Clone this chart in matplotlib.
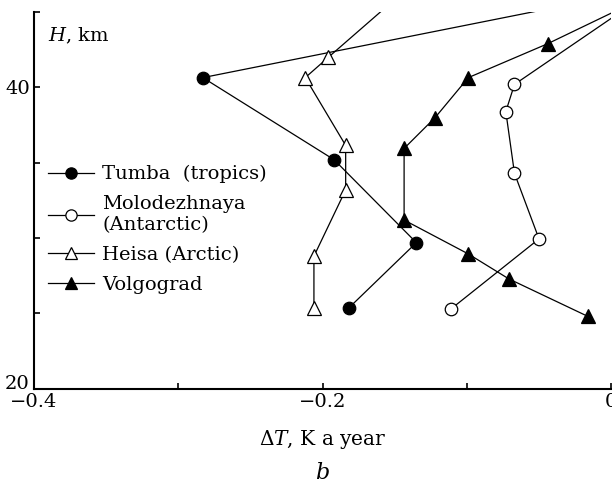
import matplotlib
matplotlib.use("Agg")
import matplotlib.pyplot as plt
from matplotlib.ticker import MultipleLocator

plt.rcParams["font.family"] = "DejaVu Serif"
plt.rcParams["mathtext.fontset"] = "dejavuserif"

# temperature trend (K per year) vs height (km); last point of each lies above the frame
tumba_dt = [-0.182, -0.135, -0.192, -0.283, 0.05]
tumba_h = [25.35, 29.7, 35.2, 40.65, 47.0]

molod_dt = [-0.111, -0.050, -0.067, -0.073, -0.067, 0.037]
molod_h = [25.3, 29.95, 34.3, 38.4, 40.2, 47.0]

heisa_dt = [-0.206, -0.206, -0.184, -0.184, -0.212, -0.196, -0.136]
heisa_h = [25.35, 28.8, 33.2, 36.15, 40.65, 42.0, 47.0]

volgo_dt = [-0.016, -0.071, -0.099, -0.1435, -0.1435, -0.122, -0.099, -0.044, 0.045]
volgo_h = [24.8, 27.3, 28.95, 31.2, 35.95, 38.0, 40.65, 42.9, 47.0]

fig = plt.figure(figsize=(6.12, 4.83), dpi=100)
ax = fig.add_axes([0.0556, 0.195, 0.943, 0.78])

kw = dict(color="black", lw=0.9, markeredgewidth=0.9)
ax.plot(tumba_dt, tumba_h, marker="o", markersize=9, markerfacecolor="black",
        label="Tumba  (tropics)", **kw)
ax.plot(molod_dt, molod_h, marker="o", markersize=9, markerfacecolor="white",
        label="Molodezhnaya\n(Antarctic)", **kw)
ax.plot(heisa_dt, heisa_h, marker="^", markersize=10, markerfacecolor="white",
        label="Heisa (Arctic)", **kw)
ax.plot(volgo_dt, volgo_h, marker="^", markersize=10, markerfacecolor="black",
        label="Volgograd", **kw)

ax.set_xlim(-0.4, 0)
ax.set_ylim(20, 45)
ax.set_xticks([-0.4, -0.2, 0])
ax.set_xticklabels(["\u22120.4", "\u22120.2", "0"])
ax.xaxis.set_minor_locator(MultipleLocator(0.1))
ax.set_yticks([20, 40])
ax.yaxis.set_minor_locator(MultipleLocator(5))
ax.tick_params(which="both", direction="in", length=4, width=1.2,
               labelsize=14, pad=3)
ax.get_yticklabels()[0].set_va("baseline")

for side in ("top", "right"):
    ax.spines[side].set_visible(False)
for side in ("left", "bottom"):
    ax.spines[side].set_linewidth(1.5)

ax.text(0.024, 0.965, "$H$, km", transform=ax.transAxes, fontsize=14,
        ha="left", va="top")
ax.set_xlabel("$\\Delta T$, K a year", fontsize=14.5, labelpad=12)
fig.text(0.527, 0.008, "$b$", fontsize=16, ha="center", va="baseline")

ax.legend(loc="upper left", bbox_to_anchor=(0.0, 0.63), frameon=False,
          fontsize=14, handlelength=2.4, handletextpad=0.4,
          labelspacing=0.62, borderaxespad=0.3, markerscale=0.9)

fig.savefig("out.png", dpi=100)
